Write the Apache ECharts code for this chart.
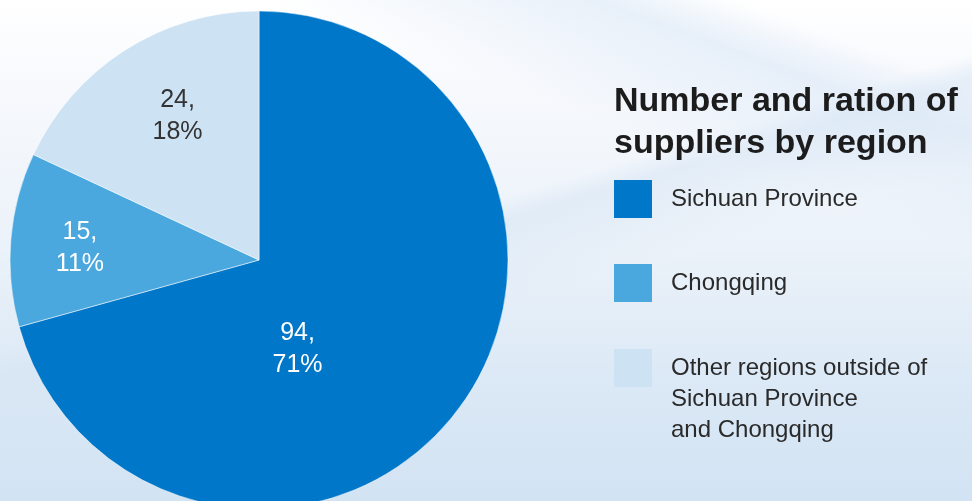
<!DOCTYPE html>
<html>
<head>
<meta charset="utf-8">
<title>Number and ration of suppliers by region</title>
<script src="https://cdn.jsdelivr.net/npm/echarts@6/dist/echarts.min.js"></script>
<style>
  html, body { margin: 0; padding: 0; }
  body {
    width: 972px; height: 501px; overflow: hidden;
    background:
      linear-gradient(163deg, rgba(255,255,255,0) 0%, rgba(255,255,255,0) 44%, rgba(214,229,244,0.55) 47%, rgba(255,255,255,0) 58%),
      linear-gradient(200deg, rgba(255,255,255,0) 10%, rgba(222,234,247,0.7) 16%, rgba(255,255,255,0) 30%),
      linear-gradient(180deg, #ffffff 0%, #f7f9fd 18%, #ebf2f9 50%, #dce9f6 75%, #d2e3f3 100%);
  }
  #chart { width: 972px; height: 501px; }
</style>
</head>
<body>
<div id="chart"></div>
<script>
// Supplier counts by region
const regions = ['Sichuan Province', 'Chongqing', 'Other regions outside of\nSichuan Province\nand Chongqing'];
const supplierCounts = [94, 15, 24];
const sliceColors = ['#0077c8', '#4aa8de', '#cde2f3'];
const labelColors = ['#ffffff', '#ffffff', '#333333'];
// label shift from the slice's default inside point
const labelShift = [[-63, 12], [-52, -1], [-13, -36]];

const total = supplierCounts.reduce((a, b) => a + b, 0);

const chart = echarts.init(document.getElementById('chart'), null, { renderer: 'canvas' });

// one legend block per region; swatch tops
const legendTops = [180, 264, 349];
const legendLineHeight = 31;
const legends = regions.map((name, i) => {
  const lines = name.split('\n').length;
  // leading blank lines keep the first text line level with the swatch
  const lead = lines - 1;
  const blockHeight = (lines + lead) * legendLineHeight;
  return {
    data: [name],
    orient: 'vertical',
    left: 614,
    top: lines > 1 ? legendTops[i] + 19 - blockHeight / 2 : legendTops[i],
    padding: 0,
    itemWidth: 38,
    itemHeight: 38,
    itemGap: 0,
    icon: 'rect',
    selectedMode: false,
    itemStyle: { borderWidth: 0 },
    formatter: n => '\n'.repeat(lead) + n,
    textStyle: {
      fontFamily: 'Liberation Sans, Arial, sans-serif',
      fontSize: 24,
      color: '#2a2a2a',
      lineHeight: legendLineHeight,
      padding: [0, 0, 0, 14]
    }
  };
});

chart.setOption({
  animation: false,
  title: {
    text: 'Number and ration of\nsuppliers by region',
    left: 614,
    top: 81,
    padding: 0,
    textStyle: {
      fontFamily: 'Liberation Sans, Arial, sans-serif',
      fontSize: 34,
      fontWeight: 'bold',
      color: '#1c1c1c',
      lineHeight: 42
    }
  },
  legend: legends,
  series: [{
    type: 'pie',
    center: [259, 260],
    radius: [0, 249],
    startAngle: 90,
    clockwise: true,
    avoidLabelOverlap: false,
    itemStyle: { borderColor: 'rgba(255,255,255,0.5)', borderWidth: 1 },
    label: {
      show: true,
      position: 'inside',
      fontFamily: 'Liberation Sans, Arial, sans-serif',
      fontSize: 25,
      lineHeight: 32,
      align: 'center',
      formatter: p => p.value + ',\n' + Math.round(p.value / total * 100) + '%'
    },
    labelLine: { show: false },
    labelLayout: p => ({ dx: labelShift[p.dataIndex][0], dy: labelShift[p.dataIndex][1] }),
    emphasis: { disabled: true },
    data: regions.map((name, i) => ({
      name: name,
      value: supplierCounts[i],
      itemStyle: { color: sliceColors[i] },
      label: { color: labelColors[i] }
    }))
  }]
});
</script>
</body>
</html>
